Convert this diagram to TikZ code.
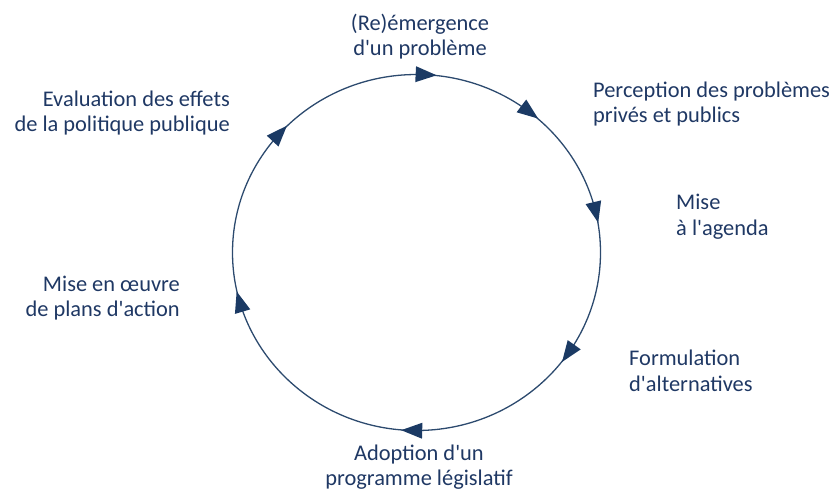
\documentclass[tikz,border=0pt]{standalone}
\usepackage{fontspec}
\setmainfont{Carlito}[Ligatures=TeXOff]
\definecolor{navy}{HTML}{1F3864}
\definecolor{navyline}{HTML}{2C4A6E}
\definecolor{navyarrow}{HTML}{1B3A64}
\begin{document}
\begin{tikzpicture}[x=1pt,y=-1pt,
  lbl/.style={font=\fontsize{22.4}{25.5}\selectfont, text=navy, inner sep=0pt}]
\useasboundingbox (0,0) rectangle (834,491);
\draw[line width=1.3pt, draw=navyline] (416.5,252.5) ellipse [x radius=184, y radius=178];
\foreach \t in {87,52,13,-34.5,268.5,196,138}{
  \pgfmathsetmacro\px{416.5+184*cos(\t)}
  \pgfmathsetmacro\py{252.5-178*sin(\t)}
  \pgfmathsetmacro\ux{184*sin(\t)}
  \pgfmathsetmacro\uy{178*cos(\t)}
  \pgfmathsetmacro\nn{veclen(\ux,\uy)}
  \pgfmathsetmacro\ax{\ux/\nn}
  \pgfmathsetmacro\ay{\uy/\nn}
  \fill[navyarrow] (\px+10.5*\ax, \py+10.5*\ay) -- (\px-10.5*\ax-8*\ay, \py-10.5*\ay+8*\ax) -- (\px-10.5*\ax+8*\ay, \py-10.5*\ay-8*\ax) -- cycle;
}
\node[lbl, anchor=base, align=center] (reem) at (420,55.5) {(Re)émergence\\d'un problème};
\node[lbl, anchor=base west, align=left] (perc) at (593,122.5) {Perception des problèmes\\privés et publics};
\node[lbl, anchor=base west, align=left] (agenda) at (676,235) {Mise\\à l'agenda};
\node[lbl, anchor=base west, align=left] (form) at (629,391) {Formulation\\d'alternatives};
\node[lbl, anchor=base, align=center] (adopt) at (419,485.5) {Adoption d'un\\programme législatif};
\node[lbl, anchor=base east, align=right] (oeuvre) at (180,316.5) {Mise en œuvre\\de plans d'action};
\node[lbl, anchor=base east, align=right] (eval) at (230,131.5) {Evaluation des effets\\de la politique publique};
\end{tikzpicture}
\end{document}
